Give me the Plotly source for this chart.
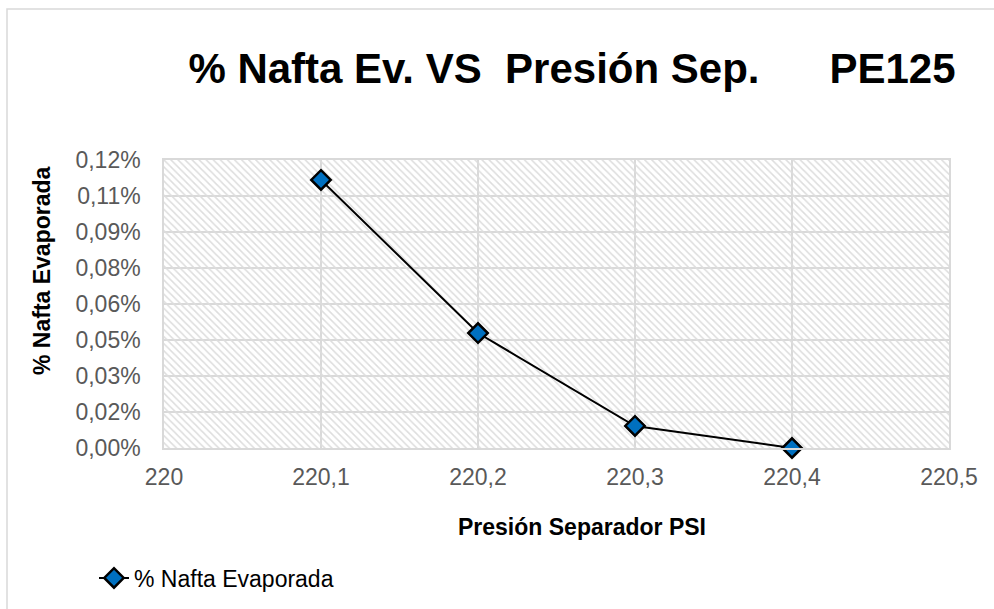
import plotly.graph_objects as go

# ---- data ----
presion = [220.1, 220.2, 220.3, 220.4]
nafta_evap = [0.001117, 0.000479, 0.0000917, 0.0]
serie = "% Nafta Evaporada"

x_tickvals = [220.0, 220.1, 220.2, 220.3, 220.4, 220.5]
x_ticktext = ["220", "220,1", "220,2", "220,3", "220,4", "220,5"]
y_tickvals = [0.0, 0.00015, 0.0003, 0.00045, 0.0006, 0.00075, 0.0009, 0.00105, 0.0012]
y_ticktext = ["0,00%", "0,02%", "0,03%", "0,05%", "0,06%", "0,08%", "0,09%", "0,11%", "0,12%"]

title_text = "% Nafta Ev. VS\u00a0 Presión Sep.\u00a0\u00a0\u00a0\u00a0\u00a0 PE125"
x_title = "Presión Separador PSI"
y_title = "% Nafta Evaporada"

W, H = 994, 609
L, R, T, B = 164, 45, 160, 161
pw, ph = W - L - R, H - T - B

def px(x):
    return (x - L) / pw

def py(y):
    return (H - B - y) / ph

xr = [x_tickvals[0], x_tickvals[-1]]
yr = [y_tickvals[0], y_tickvals[-1]]

FONT = "Liberation Sans, Arial, sans-serif"
GRID = "#d9d9d9"

fig = go.Figure()

# hatched plot-area background
fig.add_trace(go.Bar(
    x=[(xr[0] + xr[1]) / 2], y=[yr[1] - yr[0]], base=[yr[0]],
    width=[xr[1] - xr[0]],
    marker=dict(color="rgba(0,0,0,0)", line=dict(width=0),
                pattern=dict(shape="\\", fgcolor="#dddddd", size=5, solidity=0.3,
                             fillmode="replace")),
    showlegend=False, hoverinfo="skip",
))

fig.add_trace(go.Scatter(
    x=presion, y=nafta_evap, mode="lines+markers", name=serie,
    line=dict(color="black", width=2),
    marker=dict(symbol="diamond", size=15, color="#0070C0",
                line=dict(color="black", width=2.5)),
    cliponaxis=False,
))

fig.update_layout(
    width=W, height=H,
    margin=dict(l=L, r=R, t=T, b=B, autoexpand=False),
    paper_bgcolor="white", plot_bgcolor="white",
    font=dict(family=FONT, color="#595959", size=23),
    title=dict(text="<b>" + title_text + "</b>", x=px(572), xref="paper",
               xanchor="center", y=1 - 68 / H, yref="container", yanchor="middle",
               font=dict(family=FONT, size=42, color="black")),
    showlegend=True,
    legend=dict(x=px(94), y=py(578), xanchor="left", yanchor="middle",
                font=dict(family=FONT, size=23, color="black"),
                bgcolor="rgba(0,0,0,0)"),
    bargap=0,
    hovermode=False,
    annotations=[
        dict(text="<b>" + x_title + "</b>", x=px(582), y=py(527), xref="paper", yref="paper",
             xanchor="center", yanchor="middle", showarrow=False,
             font=dict(family=FONT, size=23, color="black")),
        dict(text="<b>" + y_title + "</b>", x=px(42), y=py(271), xref="paper", yref="paper",
             xanchor="center", yanchor="middle", showarrow=False, textangle=-90,
             font=dict(family=FONT, size=23, color="black")),
    ],
    shapes=[
        dict(type="rect", xref="paper", yref="paper",
             x0=px(7), x1=px(1100), y0=py(700), y1=py(9),
             line=dict(color=GRID, width=1.5), fillcolor="rgba(0,0,0,0)", layer="below"),
    ],
)

fig.update_xaxes(range=xr, tickvals=x_tickvals, ticktext=x_ticktext,
                 showgrid=True, gridcolor=GRID, gridwidth=1.5,
                 showline=True, linecolor=GRID, linewidth=1.5, mirror=True,
                 zeroline=False, ticks="", ticklabelstandoff=8,
                 tickfont=dict(size=23, color="#595959", family=FONT))
fig.update_yaxes(range=yr, tickvals=y_tickvals, ticktext=y_ticktext,
                 showgrid=True, gridcolor=GRID, gridwidth=1.5,
                 showline=True, linecolor=GRID, linewidth=1.5, mirror=True,
                 zeroline=False, ticks="", ticklabelstandoff=17,
                 tickfont=dict(size=23, color="#595959", family=FONT))

fig.write_html("out.html", config={"displayModeBar": False},
               post_script="document.body.style.margin='0';")
